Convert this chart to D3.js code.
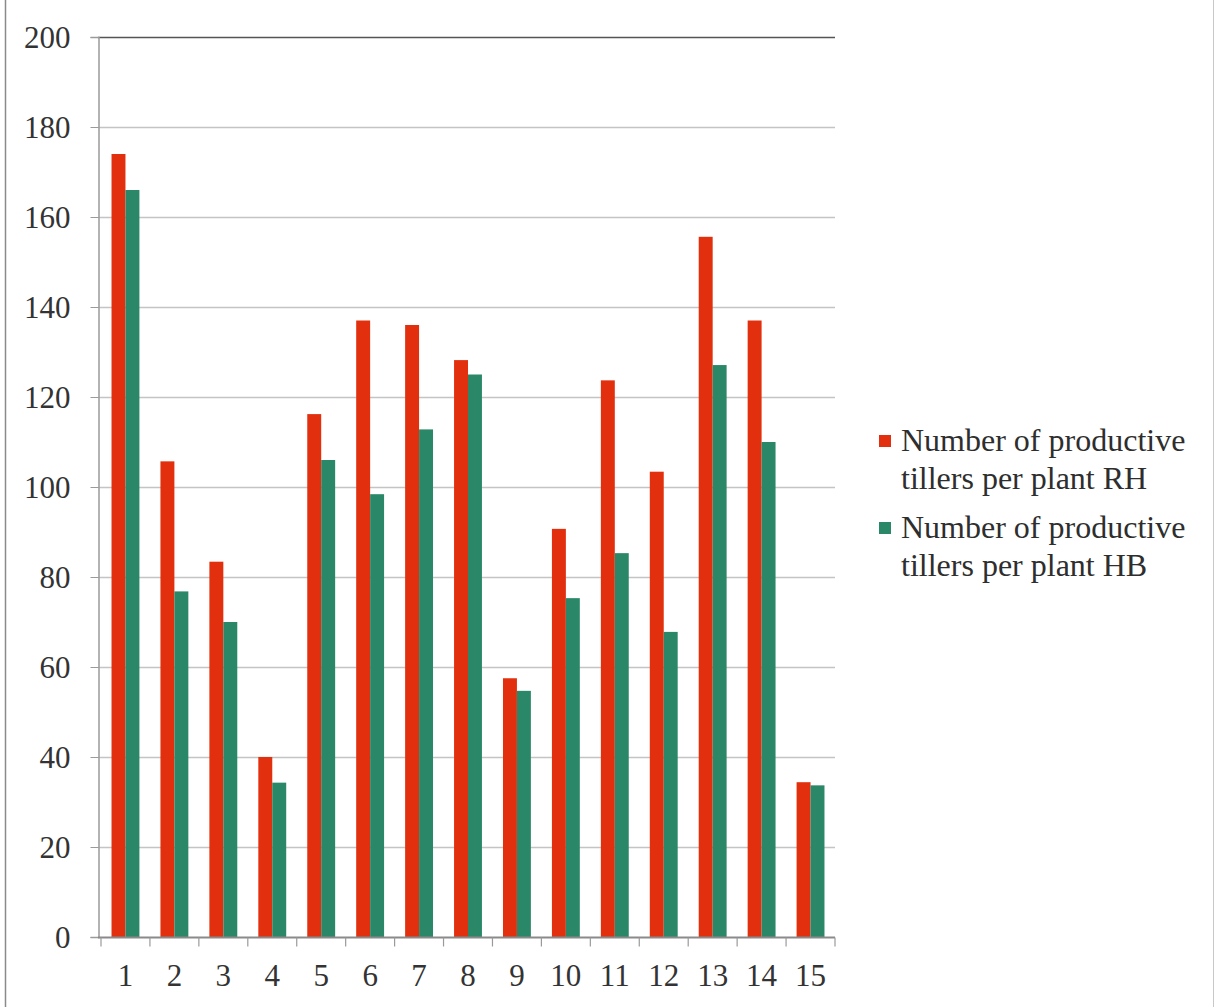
<!DOCTYPE html>
<html>
<head>
<meta charset="utf-8">
<script src="https://cdn.jsdelivr.net/npm/d3@7"></script>
<style>
  html, body { margin: 0; padding: 0; background: #ffffff; }
  svg { display: block; }
  svg text { font-family: 'Liberation Serif', 'Times New Roman', Times, serif; }
</style>
</head>
<body>
<svg id="chart" width="1218" height="1007"></svg>
<script>
// Genotypes 1–15
const categories = ["1","2","3","4","5","6","7","8","9","10","11","12","13","14","15"];
// Number of productive tillers per plant
const seriesRH = [174, 105.7, 83.4, 40, 116.2, 137, 136, 128.2, 57.5, 90.7, 123.7, 103.4, 155.6, 137, 34.4];
const seriesHB = [166, 76.8, 70, 34.3, 106, 98.4, 112.8, 125, 54.7, 75.3, 85.3, 67.8, 127.1, 110, 33.7];
const seriesNames = ["Number of productive tillers per plant RH", "Number of productive tillers per plant HB"];
const seriesColors = ["#e2300e", "#2a8869"];
const yTicks = [0, 20, 40, 60, 80, 100, 120, 140, 160, 180, 200];

(function () {
  const serif = "'Liberation Serif', 'Times New Roman', Times, serif";
  const svg = d3.select("#chart");

  // Page frame lines
  svg.append("line").attr("x1", 5.5).attr("x2", 5.5).attr("y1", 0).attr("y2", 1007)
    .attr("stroke", "#8a8a8a").attr("stroke-width", 1.5);
  svg.append("line").attr("x1", 1213.5).attr("x2", 1213.5).attr("y1", 0).attr("y2", 1007)
    .attr("stroke", "#c8c8c8").attr("stroke-width", 1);

  const plotLeft = 98, plotRight = 835, plotTop = 37, plotBottom = 937;

  const y = d3.scaleLinear().domain([0, 200]).range([plotBottom, plotTop]);
  const x0 = d3.scaleBand().domain(categories).range([101, plotRight])
    .paddingInner(0.43).paddingOuter(0.215);
  const x1 = d3.scaleBand().domain([0, 1]).range([0, x0.bandwidth()]);

  // Horizontal gridlines
  svg.append("g").selectAll("line").data(yTicks.filter(t => t > 0)).join("line")
    .attr("x1", plotLeft).attr("x2", plotRight)
    .attr("y1", d => Math.round(y(d)) + 0.5).attr("y2", d => Math.round(y(d)) + 0.5)
    .attr("stroke", d => d === 200 ? "#555" : "#c4c4c4")
    .attr("stroke-width", d => d === 200 ? 1.3 : 1.5);

  // Y axis
  const yAxis = d3.axisLeft(y).tickValues(yTicks).tickSize(8).tickPadding(20);
  const gy = svg.append("g").attr("transform", `translate(${plotLeft + 0.5},0)`).call(yAxis)
    .attr("font-family", serif).attr("font-size", 31);
  gy.select(".domain").attr("stroke", "#9a9a9a").attr("stroke-width", 1.5);
  gy.selectAll(".tick line").attr("stroke", "#9a9a9a");
  gy.selectAll(".tick text").attr("fill", "#333").attr("dy", "0.34em");

  // Bars
  const groups = svg.append("g").selectAll("g").data(categories).join("g")
    .attr("transform", d => `translate(${x0(d)},0)`);
  groups.selectAll("rect")
    .data((d, i) => [seriesRH[i], seriesHB[i]].map((v, s) => ({ v, s })))
    .join("rect")
    .attr("x", d => x1(d.s))
    .attr("width", x1.bandwidth())
    .attr("y", d => y(d.v))
    .attr("height", d => y(0) - y(d.v))
    .attr("fill", d => seriesColors[d.s]);

  // X axis with tick marks on category boundaries
  const step = x0.step();
  const gx = svg.append("g").attr("transform", `translate(0,${plotBottom + 0.5})`);
  gx.append("line").attr("x1", plotLeft).attr("x2", plotRight).attr("stroke", "#8a8a8a").attr("stroke-width", 2);
  const boundaries = categories.map(c => x0(c) - step * x0.paddingInner() / 2)
    .concat([x0(categories[categories.length - 1]) + x0.bandwidth() + step * x0.paddingInner() / 2]);
  gx.selectAll("line.tk").data(boundaries).join("line").attr("class", "tk")
    .attr("x1", d => d).attr("x2", d => d).attr("y1", 0).attr("y2", 9)
    .attr("stroke", "#9a9a9a").attr("stroke-width", 1.2);
  gx.selectAll("text").data(categories).join("text")
    .attr("x", d => x0(d) + x0.bandwidth() / 2)
    .attr("y", 48)
    .attr("text-anchor", "middle")
    .attr("font-family", serif)
    .attr("font-size", 31).attr("fill", "#333")
    .text(d => d);

  // Legend
  const legend = svg.append("g").attr("transform", "translate(879,0)");
  const legendRows = [
    { lines: ["Number of productive", "tillers per plant RH"], y: 451 },
    { lines: ["Number of productive", "tillers per plant HB"], y: 538 }
  ];
  legendRows.forEach((row, i) => {
    legend.append("rect").attr("x", 0).attr("y", row.y - 16).attr("width", 12).attr("height", 12)
      .attr("fill", seriesColors[i]);
    const t = legend.append("text").attr("x", 22).attr("y", row.y)
      .attr("font-family", serif)
      .attr("font-size", 32).attr("fill", "#2e2e2e");
    row.lines.forEach((ln, k) => {
      t.append("tspan").attr("x", 22).attr("dy", k === 0 ? 0 : 38).text(ln);
    });
  });
})();
</script>
</body>
</html>
